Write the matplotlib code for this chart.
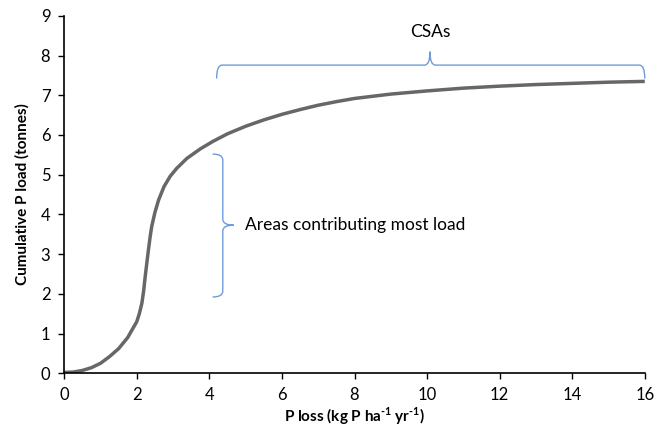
import numpy as np
import matplotlib.pyplot as plt
from matplotlib.path import Path
from matplotlib.patches import PathPatch

plt.rcParams['font.family'] = ['Lato', 'DejaVu Sans']
plt.rcParams['mathtext.fontset'] = 'custom'
plt.rcParams['mathtext.rm'] = 'Lato'
plt.rcParams['mathtext.bf'] = 'Lato:bold'

# Cumulative P load curve
p_loss = [0, 0.25, 0.5, 0.75, 1.0, 1.25, 1.5, 1.75, 2.0, 2.07, 2.14, 2.19, 2.23, 2.28,
          2.32, 2.37, 2.41, 2.5, 2.6, 2.75, 2.92, 3.1, 3.38, 3.75, 4.1, 4.5, 5.0, 5.5,
          6.0, 6.5, 7.0, 7.5, 8.0, 9.0, 10.0, 11.0, 12.0, 13.0, 14.0, 15.0, 16.0]
cum_load = [0.02, 0.03, 0.07, 0.14, 0.25, 0.42, 0.62, 0.9, 1.3, 1.5, 1.76, 2.08, 2.42, 2.8,
            3.1, 3.45, 3.69, 4.05, 4.36, 4.7, 4.96, 5.16, 5.41, 5.65, 5.84, 6.03, 6.22, 6.38,
            6.52, 6.64, 6.75, 6.84, 6.92, 7.03, 7.11, 7.18, 7.23, 7.27, 7.3, 7.33, 7.35]

xticks = [0, 2, 4, 6, 8, 10, 12, 14, 16]
yticks = [0, 1, 2, 3, 4, 5, 6, 7, 8, 9]

fig = plt.figure(figsize=(6.62, 4.29), dpi=100)
ax = fig.add_axes([0.097, 0.13, 0.877, 0.833])

ax.plot(p_loss, cum_load, color='#676767', lw=2.5, solid_capstyle='butt',
        solid_joinstyle='round')

ax.set_xlim(0, 16)
ax.set_ylim(0, 9)
ax.set_xticks(xticks)
ax.set_yticks(yticks)
ax.tick_params(direction='out', length=4, width=1, labelsize=12, colors='black', pad=6)
for s in ['top', 'right']:
    ax.spines[s].set_visible(False)
for s in ['left', 'bottom']:
    ax.spines[s].set_linewidth(1.2)

ax.set_xlabel('P loss (kg P ha$^{\\mathbf{\u2010}\\mathbf{1}}$ yr$^{\\mathbf{\u2010}\\mathbf{1}}$)',
              fontsize=11, fontweight='bold', labelpad=2)
ax.set_ylabel('Cumulative P load (tonnes)', fontsize=11, fontweight='bold', labelpad=8)

brace_color = '#6f9bd8'

# horizontal brace (CSAs)
x0, x1, y, d, tip, r = 4.2, 16.0, 7.76, 0.34, 0.34, 0.15
xm = 10.08
verts = [(x0, y - d), (x0, y), (x0 + r, y),
         (xm - r, y),
         (xm, y), (xm, y + tip),
         (xm, y), (xm + r, y),
         (x1 - r, y),
         (x1, y), (x1, y - d)]
codes = [Path.MOVETO, Path.CURVE3, Path.CURVE3, Path.LINETO,
         Path.CURVE3, Path.CURVE3, Path.CURVE3, Path.CURVE3,
         Path.LINETO, Path.CURVE3, Path.CURVE3]
ax.add_patch(PathPatch(Path(verts, codes), fc='none', ec=brace_color, lw=1, clip_on=False))
ax.text(xm, 8.6, 'CSAs', ha='center', va='center', fontsize=12.5)

# vertical brace (areas contributing most load)
xv, y0, y1, dv, tipv, rv = 4.37, 1.92, 5.52, 0.28, 0.3, 0.15
ym = 3.73
verts = [(xv - dv, y1), (xv, y1), (xv, y1 - rv),
         (xv, ym + rv),
         (xv, ym), (xv + tipv, ym),
         (xv, ym), (xv, ym - rv),
         (xv, y0 + rv),
         (xv, y0), (xv - dv, y0)]
ax.add_patch(PathPatch(Path(verts, codes), fc='none', ec=brace_color, lw=1, clip_on=False))
ax.text(4.97, ym, 'Areas contributing most load', ha='left', va='center', fontsize=12.5)

fig.savefig('out.png', dpi=100)
